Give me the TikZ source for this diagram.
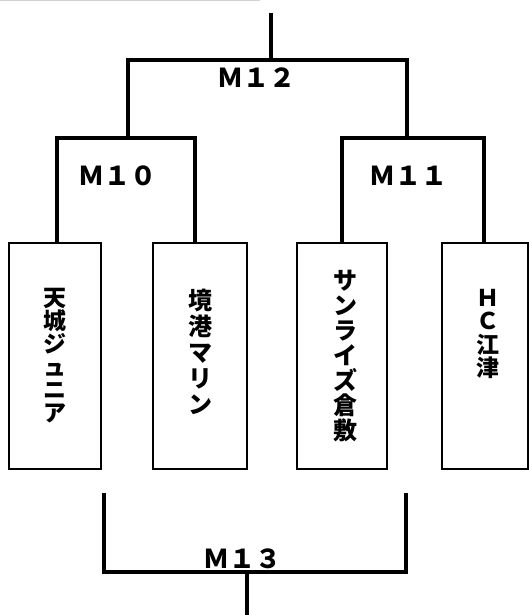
\documentclass[tikz,border=0pt]{standalone}
\usepackage{fontspec}
\newfontfamily\jp{Noto Sans CJK JP}
\tikzset{
  bar/.style={line width=3.2pt, line join=miter},
  teambox/.style={draw, line width=2pt, inner sep=0pt, minimum height=226pt},
  mlabel/.style={font=\jp\bfseries\fontsize{26}{26}\selectfont, inner sep=0pt},
  team/.style={inner sep=0pt, align=center}
}
\begin{document}
\begin{tikzpicture}[x=1pt,y=-1pt]
\useasboundingbox (0,0) rectangle (529,615);
\draw[black!18, line width=1.2pt] (0,0.8) -- (260,0.8);
% boxes
\node[teambox, minimum width=92pt] (b1) at (55,356) {};
\node[teambox, minimum width=94pt] (b2) at (200,356) {};
\node[teambox, minimum width=90pt] (b3) at (342,356) {};
\node[teambox, minimum width=86pt] (b4) at (485,356) {};
% team names
\node[team, font=\jp\bfseries\fontsize{23}{23}\selectfont] (t1) at (55,356) {天\\城\\ジ\\ュ\\ニ\\ア};
\node[team, font=\jp\bfseries\fontsize{24}{26}\selectfont] (t2) at (200,352) {境\\港\\マ\\リ\\ン};
\node[team, font=\jp\bfseries\fontsize{24}{25}\selectfont] (t3) at (345,356) {サ\\ン\\ラ\\イ\\ズ\\倉\\敷};
\node[team, font=\jp\bfseries\fontsize{23}{23.5}\selectfont] (t4) at (488,334) {Ｈ\\Ｃ\\江\\津};
% bracket coordinates
\coordinate (top) at (271,13);
\coordinate (r12l) at (128,60);
\coordinate (r12r) at (407,60);
\coordinate (r10l) at (57,138);
\coordinate (r10r) at (195,138);
\coordinate (r11l) at (342,138);
\coordinate (r11r) at (484,138);
\coordinate (r13l) at (104,493);
\coordinate (r13r) at (406,493);
\coordinate (c13l) at (104,572);
\coordinate (c13r) at (406,572);
\coordinate (bot) at (247,615);
% brackets
\draw[bar] (b1.north -| r10l) -- (r10l) -- (r10r) -- (b2.north -| r10r);
\draw[bar] (b3.north -| r11l) -- (r11l) -- (r11r) -- (b4.north -| r11r);
\draw[bar] (r12l |- r10l) -- (r12l) -- (r12r) -- (r12r |- r11l);
\draw[bar] (top) -- (top |- r12l);
\draw[bar] (r13l) -- (c13l) -- (c13r) -- (r13r);
\draw[bar] (c13l -| bot) -- (bot);
% match labels
\node[mlabel] (m12) at (256,78) {Ｍ１２};
\node[mlabel] (m10) at (117,176) {Ｍ１０};
\node[mlabel] (m11) at (408,176) {Ｍ１１};
\node[mlabel] (m13) at (242,559) {Ｍ１３};
\end{tikzpicture}
\end{document}
